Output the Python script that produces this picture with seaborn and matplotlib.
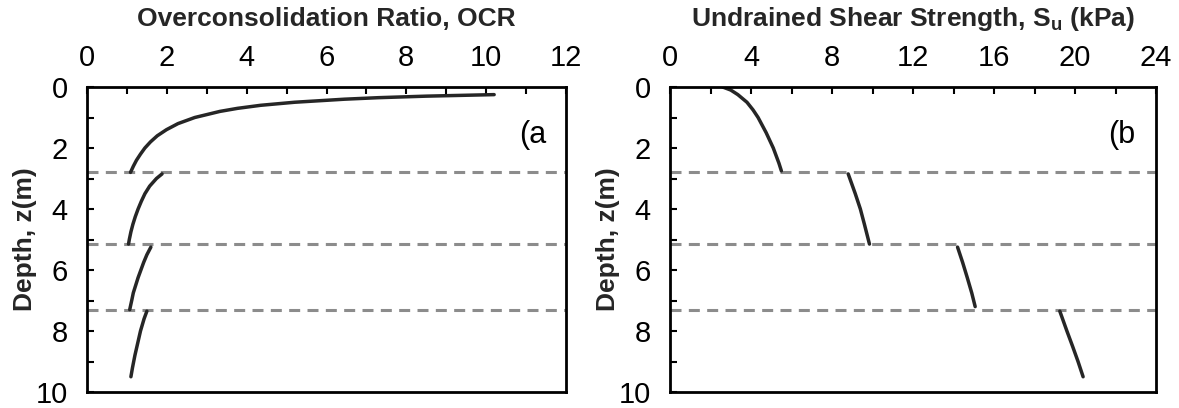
import numpy as np
import pandas as pd
import matplotlib
matplotlib.use("Agg")
import matplotlib.pyplot as plt
import seaborn as sns

# ---- data ----
# Panel (a): OCR vs depth, four layers
ocr_z_1 = [0.25, 0.3, 0.35, 0.4, 0.5, 0.6, 0.7, 0.8, 1.0, 1.2, 1.4, 1.6, 1.8, 2.0, 2.2, 2.4, 2.6, 2.8]
ocr_v_1 = [10.2, 8.5, 7.3, 6.45, 5.2, 4.35, 3.77, 3.33, 2.7, 2.28, 1.99, 1.76, 1.59, 1.45, 1.34, 1.24, 1.16, 1.09]
ocr_z_2 = [2.85, 3.0, 3.25, 3.5, 3.75, 4.0, 4.25, 4.5, 4.75, 5.0, 5.15]
ocr_v_2 = [1.88, 1.74, 1.57, 1.45, 1.36, 1.28, 1.21, 1.15, 1.1, 1.06, 1.04]
ocr_z_3 = [5.25, 5.5, 5.75, 6.0, 6.25, 6.5, 6.75, 7.0, 7.3]
ocr_v_3 = [1.6, 1.5, 1.42, 1.35, 1.28, 1.22, 1.16, 1.12, 1.07]
ocr_z_4 = [7.35, 7.6, 8.0, 8.4, 8.8, 9.2, 9.5]
ocr_v_4 = [1.5, 1.43, 1.34, 1.27, 1.2, 1.14, 1.1]

# Panel (b): Su vs depth, four layers
su_z_1 = [0.0, 0.1, 0.25, 0.5, 0.75, 1.0, 1.5, 2.0, 2.5, 2.75]
su_v_1 = [2.6, 3.0, 3.35, 3.8, 4.1, 4.35, 4.75, 5.1, 5.38, 5.5]
su_z_2 = [2.85, 3.5, 4.0, 4.5, 5.15]
su_v_2 = [8.8, 9.15, 9.4, 9.6, 9.85]
su_z_3 = [5.25, 5.75, 6.25, 6.75, 7.2]
su_v_3 = [14.2, 14.45, 14.68, 14.9, 15.07]
su_z_4 = [7.35, 8.0, 8.5, 9.0, 9.5]
su_v_4 = [19.25, 19.6, 19.88, 20.15, 20.4]

layer_boundaries = [2.8, 5.15, 7.3]

ocr_ticks = [0, 2, 4, 6, 8, 10, 12]
su_ticks = [0, 4, 8, 12, 16, 20, 24]
depth_ticks = [0, 2, 4, 6, 8, 10]


def make_df(zs, vs):
    frames = []
    for i, (z, v) in enumerate(zip(zs, vs)):
        frames.append(pd.DataFrame({"z": z, "v": v, "seg": i}))
    return pd.concat(frames, ignore_index=True)


df_ocr = make_df([ocr_z_1, ocr_z_2, ocr_z_3, ocr_z_4], [ocr_v_1, ocr_v_2, ocr_v_3, ocr_v_4])
df_su = make_df([su_z_1, su_z_2, su_z_3, su_z_4], [su_v_1, su_v_2, su_v_3, su_v_4])

sns.set_theme(style="ticks")
plt.rcParams["font.family"] = ["Liberation Sans", "DejaVu Sans"]
plt.rcParams["mathtext.fontset"] = "custom"
plt.rcParams["mathtext.rm"] = "Liberation Sans"
plt.rcParams["mathtext.bf"] = "Liberation Sans:bold"

fig = plt.figure(figsize=(11.79, 4.08), dpi=100)
ax1 = fig.add_axes([87 / 1179, 16 / 408, (566 - 87) / 1179, (392 - 87) / 408])
ax2 = fig.add_axes([670 / 1179, 16 / 408, (1156 - 670) / 1179, (392 - 87) / 408])

line_col = "#262626"
dash_col = "#8c8c8c"

panels = [
    (ax1, df_ocr, 12, ocr_ticks, 1, "Overconsolidation Ratio, OCR", "(a", -0.104),
    (ax2, df_su, 24, su_ticks, 2, r"Undrained Shear Strength, S$_{\mathbf{u}}$ (kPa)", "(b", -0.103),
]

for ax, df, xmax, xt, minor, title, tag, ylab_x in panels:
    sns.lineplot(data=df, x="v", y="z", units="seg", estimator=None, sort=False,
                 color=line_col, lw=2.5, ax=ax, legend=False)
    for d in layer_boundaries:
        ax.axhline(d, color=dash_col, lw=2.2, ls=(0, (3.6, 2.4)), zorder=1)
    ax.set_xlim(0, xmax)
    ax.set_ylim(10, 0)
    ax.xaxis.tick_top()
    ax.xaxis.set_label_position("top")
    ax.set_xticks(xt)
    ax.set_xticks(np.arange(0, xmax + 0.01, minor), minor=True)
    ax.set_yticks(depth_ticks)
    ax.set_yticks(np.arange(0, 10.01, 1), minor=True)
    ax.tick_params(axis="both", which="both", direction="in", colors="black",
                   labelsize=21, width=1.5, length=5)
    ax.tick_params(axis="x", which="both", top=True, bottom=False, pad=11)
    ax.tick_params(axis="y", which="both", left=True, right=False, pad=14)
    ax.set_xlabel(title, fontsize=19, fontweight="bold", labelpad=13)
    ax.set_ylabel("Depth, z(m)", fontsize=19, fontweight="bold")
    ax.yaxis.set_label_coords(ylab_x, 0.5)
    for s in ax.spines.values():
        s.set_color("black")
        s.set_linewidth(2)
    ax.text(0.958, 0.843, tag, transform=ax.transAxes, ha="right", va="center",
            fontsize=22, color="black")

fig.savefig("out.png", dpi=100)
